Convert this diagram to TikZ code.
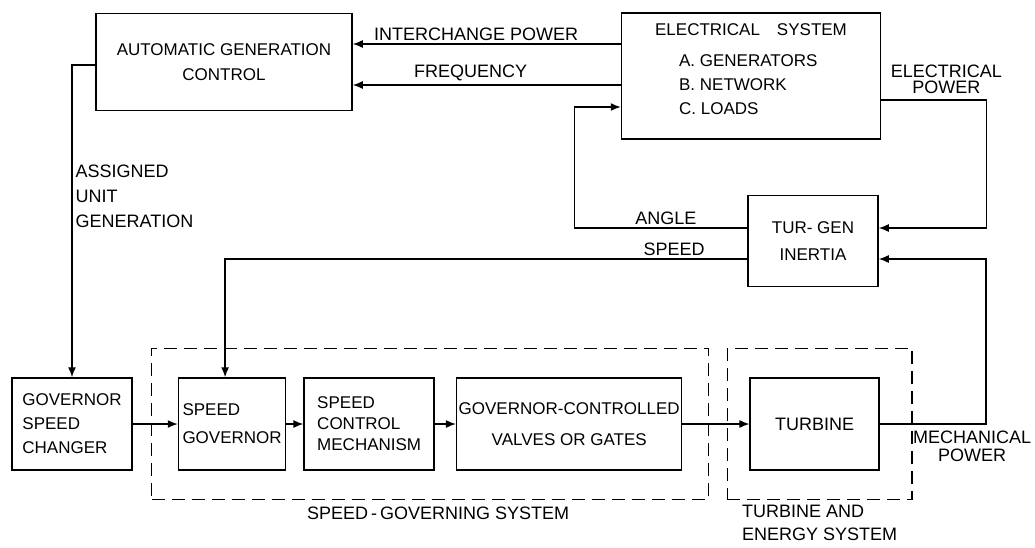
\documentclass[tikz,border=0pt]{standalone}
\usepackage{fontspec}
\setmainfont{Liberation Sans}
\usepackage{tikz}
\usetikzlibrary{arrows.meta, positioning, fit}

\begin{document}
\begin{tikzpicture}[
  x=1pt, y=-1pt,
  box/.style={rectangle, draw, line width=1.5pt, minimum height=92pt, align=center, inner sep=4pt, font=\fontsize{17}{21}\selectfont},
  grp/.style={rectangle, draw, line width=1.4pt, dash pattern=on 13pt off 7pt, inner ysep=29pt},
  lbl/.style={inner sep=3pt, align=center, font=\fontsize{18}{21}\selectfont},
  arr/.style={-{Latex[length=10pt, width=8pt]}, line width=1.4pt}
]
\useasboundingbox (0,0) rectangle (1035,547);

% upper blocks
\node[box, minimum width=256pt, minimum height=97pt] (agc) at (224,62) {AUTOMATIC GENERATION\\[4pt]CONTROL};
\node[box, minimum width=259pt, minimum height=126pt, align=left, text depth=14pt] (elec) at (751,76)
  {ELECTRICAL\quad SYSTEM\\[10pt]\hspace*{24pt}A. GENERATORS\\[3pt]\hspace*{24pt}B. NETWORK\\[3pt]\hspace*{24pt}C. LOADS};
\node[box, minimum width=130pt, minimum height=91pt] (tg) at (813,241) {TUR- GEN\\[6pt]INERTIA};

% lower row
\node[box, minimum width=120pt, align=left] (gsc) at (72,424) {GOVERNOR\\[3pt]SPEED\\[3pt]CHANGER};
\node[box, minimum width=104pt, align=left, right=45pt of gsc] (sg) {SPEED\\[7pt]GOVERNOR};
\node[box, minimum width=130pt, align=left, right=17pt of sg] (scm) {SPEED\\CONTROL\\MECHANISM};
\node[box, minimum width=225pt, inner xsep=2pt, right=21pt of scm] (gcv) {GOVERNOR-CONTROLLED\\[10pt]VALVES OR GATES};
\node[box, minimum width=129pt, right=67pt of gcv, font=\fontsize{18}{21}\selectfont] (turb) {TURBINE};

% dashed groups
\node[grp, fit=(sg)(gcv), inner xsep=26pt] (sgsys) {};
\node[grp, fit=(turb), inner xsep=27pt, xshift=5pt] (tesys) {};
\node[lbl, below=3pt of sgsys, xshift=8pt] (sgslbl) {SPEED\,-\,GOVERNING SYSTEM};
\node[lbl, align=left, below=1pt of tesys] (teslbl) {TURBINE AND\\[2pt]ENERGY SYSTEM};

% signals
\draw[arr] (elec.west |- 0,44) -- node[lbl, above, pos=0.54] {INTERCHANGE POWER} (agc.east |- 0,44);
\draw[arr] (elec.west |- 0,85) -- node[lbl, above, pos=0.56] {FREQUENCY} (agc.east |- 0,85);
\draw[arr] (agc.west |- 0,65) -| node[lbl, right, align=left, pos=0.71] {ASSIGNED\\[4pt]UNIT\\[4pt]GENERATION} (gsc.north);
\draw[arr] (tg.west |- 0,228) -- node[lbl, above, pos=0.47] {ANGLE} ++(-173,0) |- (elec.west |- 0,107);
\draw[arr] (elec.east |- 0,100) -- node[lbl, above, pos=0.62, yshift=3pt] {ELECTRICAL\\[-5pt]POWER} ++(105,0) |- (tg.east |- 0,228);
\draw[arr] (tg.west |- 0,259) -| node[lbl, above, pos=0.07] {SPEED} ([xshift=-7pt]sg.north);
\draw[arr] (turb.east) -- node[lbl, below, pos=0.87, yshift=-3pt] {MECHANICAL\\[-3pt]POWER} ++(106,0) |- (tg.east |- 0,259);
\draw[arr] (gsc) -- (sg);
\draw[arr] (sg) -- (scm);
\draw[arr] (scm) -- (gcv);
\draw[arr] (gcv) -- (turb);
\end{tikzpicture}
\end{document}
